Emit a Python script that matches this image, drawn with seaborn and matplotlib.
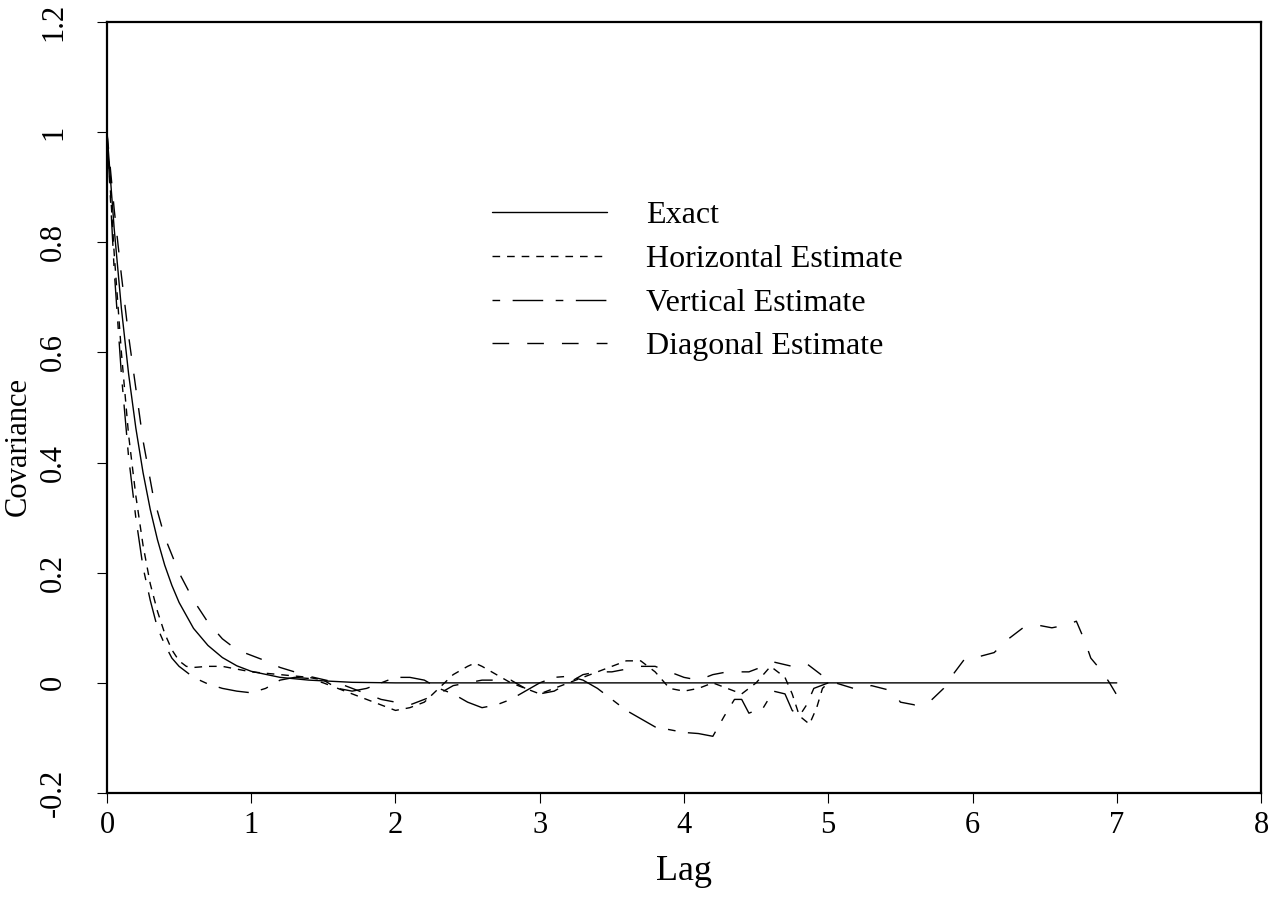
import numpy as np
import pandas as pd
import matplotlib
matplotlib.use("Agg")
import matplotlib.pyplot as plt
import seaborn as sns

# valores
lag_exact = [0, 0.05, 0.1, 0.15, 0.2, 0.25, 0.3, 0.35, 0.4, 0.45, 0.5, 0.6, 0.7,
             0.8, 0.9, 1.0, 1.2, 1.4, 1.7, 2.0, 7.0]
cov_exact = [1.0, 0.825, 0.68, 0.561, 0.463, 0.382, 0.315, 0.26, 0.214, 0.177,
             0.146, 0.099, 0.068, 0.046, 0.031, 0.021, 0.01, 0.005, 0.001, 0.0, 0.0]

lag_horiz = [0, 0.05, 0.1, 0.15, 0.2, 0.25, 0.3, 0.35, 0.4, 0.45, 0.5, 0.55, 0.6,
             0.7, 0.8, 0.9, 1.0, 1.2, 1.4, 1.5, 1.6, 1.7, 1.8, 1.9, 2.0, 2.1, 2.2,
             2.3, 2.4, 2.5, 2.55, 2.6, 2.7, 2.8, 2.9, 3.0, 3.1, 3.2, 3.3, 3.4, 3.5,
             3.6, 3.7, 3.8, 3.9, 4.0, 4.1, 4.2, 4.3, 4.4, 4.5, 4.6, 4.7, 4.75, 4.8,
             4.87, 4.92, 4.96, 5.0]
cov_horiz = [1.0, 0.78, 0.6, 0.45, 0.34, 0.25, 0.18, 0.13, 0.09, 0.06, 0.04, 0.03,
             0.028, 0.03, 0.03, 0.025, 0.02, 0.015, 0.01, 0.005, -0.01, -0.02,
             -0.03, -0.04, -0.05, -0.045, -0.035, -0.01, 0.015, 0.03, 0.036, 0.03,
             0.015, 0.0, -0.01, -0.02, -0.01, 0.0, 0.01, 0.02, 0.03, 0.04, 0.04,
             0.02, -0.01, -0.015, -0.01, 0.0, -0.01, -0.02, 0.0, 0.03, 0.01, -0.02,
             -0.06, -0.075, -0.045, -0.01, 0.0]

lag_vert = [0, 0.05, 0.1, 0.15, 0.2, 0.25, 0.3, 0.35, 0.4, 0.45, 0.5, 0.6, 0.7,
            0.8, 0.9, 1.0, 1.1, 1.2, 1.3, 1.4, 1.5, 1.6, 1.7, 1.8, 1.9, 2.0, 2.1,
            2.2, 2.3, 2.4, 2.5, 2.6, 2.7, 2.8, 2.9, 3.0, 3.1, 3.2, 3.3, 3.4, 3.5,
            3.6, 3.7, 3.8, 3.9, 4.0, 4.1, 4.2, 4.28, 4.35, 4.4, 4.45, 4.55, 4.62,
            4.7, 4.75, 4.8, 4.85, 4.9, 5.0]
cov_vert = [1.0, 0.75, 0.56, 0.41, 0.3, 0.21, 0.15, 0.1, 0.07, 0.045, 0.03, 0.01,
            -0.002, -0.01, -0.015, -0.018, -0.01, 0.005, 0.01, 0.008, 0.0, -0.01,
            -0.015, -0.01, 0.0, 0.01, 0.01, 0.005, -0.01, -0.02, -0.035, -0.045,
            -0.04, -0.03, -0.015, 0.0, 0.01, 0.012, 0.005, -0.01, -0.03, -0.05,
            -0.065, -0.08, -0.085, -0.09, -0.092, -0.097, -0.06, -0.03, -0.03,
            -0.055, -0.045, -0.015, -0.02, -0.05, -0.06, -0.04, -0.01, 0.0]

lag_diag = [0, 0.05, 0.1, 0.15, 0.2, 0.25, 0.32, 0.4, 0.5, 0.6, 0.7, 0.8, 0.9,
            1.0, 1.1, 1.2, 1.4, 1.6, 1.8, 1.9, 2.0, 2.1, 2.2, 2.3, 2.4, 2.5, 2.6,
            2.8, 2.9, 3.0, 3.1, 3.2, 3.3, 3.4, 3.5, 3.6, 3.7, 3.8, 3.9, 4.0, 4.1,
            4.2, 4.3, 4.45, 4.55, 4.62, 4.75, 4.85, 4.95, 5.05, 5.2, 5.3, 5.45,
            5.5, 5.6, 5.7, 5.8, 5.85, 5.95, 6.05, 6.15, 6.25, 6.35, 6.45, 6.55,
            6.65, 6.72, 6.78, 6.82, 6.9, 6.95, 7.0, 7.05]
cov_diag = [1.0, 0.86, 0.74, 0.63, 0.535, 0.44, 0.34, 0.265, 0.2, 0.15, 0.11,
            0.08, 0.06, 0.05, 0.04, 0.028, 0.012, 0.0, -0.02, -0.03, -0.035,
            -0.04, -0.03, -0.02, -0.005, 0.0, 0.005, 0.005, -0.01, -0.02, -0.015,
            0.0, 0.015, 0.02, 0.02, 0.025, 0.03, 0.03, 0.02, 0.01, 0.005, 0.015,
            0.02, 0.02, 0.03, 0.038, 0.03, 0.035, 0.015, 0.0, -0.012, -0.005,
            -0.015, -0.035, -0.04, -0.035, -0.01, 0.01, 0.045, 0.048, 0.055, 0.08,
            0.1, 0.105, 0.1, 0.105, 0.112, 0.075, 0.045, 0.02, 0.0, -0.022, -0.045]

series = [
    ("Exact", lag_exact, cov_exact, "-"),
    ("Horizontal Estimate", lag_horiz, cov_horiz, (0, (5.5, 5))),
    ("Vertical Estimate", lag_vert, cov_vert, (0, (5.5, 9, 22, 9))),
    ("Diagonal Estimate", lag_diag, cov_diag, (0, (12, 13))),
]

sns.set_style("ticks")
plt.rcParams["font.family"] = ["Liberation Serif", "DejaVu Serif"]
for k in ["text.color", "axes.labelcolor", "xtick.color", "ytick.color", "axes.edgecolor"]:
    plt.rcParams[k] = "black"

fig = plt.figure(figsize=(12.81, 8.98), dpi=100)
ax = fig.add_axes([0.0835, 0.1169, 0.9009, 0.8586])

for nome, x, y, ls in series:
    df = pd.DataFrame({"lag": x, "cov": y})
    sns.lineplot(data=df, x="lag", y="cov", ax=ax, color="black", linewidth=1.0,
                 linestyle=ls, label=nome)

ax.set_xlim(0, 8)
ax.set_ylim(-0.2, 1.2)
ax.set_xticks(range(0, 9))
ax.set_yticks([-0.2, 0, 0.2, 0.4, 0.6, 0.8, 1, 1.2])
ax.set_yticklabels(["-0.2", "0", "0.2", "0.4", "0.6", "0.8", "1", "1.2"],
                   rotation=90, va="center")
ax.set_xticklabels([str(i) for i in range(9)])
ax.tick_params(direction="out", length=7, width=0.8, labelsize=22)
ax.tick_params(axis="x", pad=6)
ax.tick_params(axis="y", pad=21)
for s in ax.spines.values():
    s.set_linewidth(1.6)

ax.set_xlabel("Lag", fontsize=26)
ax.set_ylabel("Covariance", fontsize=22)
ax.xaxis.set_label_coords(0.5, -0.08)
ax.yaxis.set_label_coords(-0.064, 0.449)

ax.legend(loc="upper left", bbox_to_anchor=(0.334, 0.768), frameon=False,
          fontsize=23, handlelength=3.6, handletextpad=1.2, labelspacing=0.45,
          borderpad=0, borderaxespad=0)

fig.savefig("out.png", dpi=100)
